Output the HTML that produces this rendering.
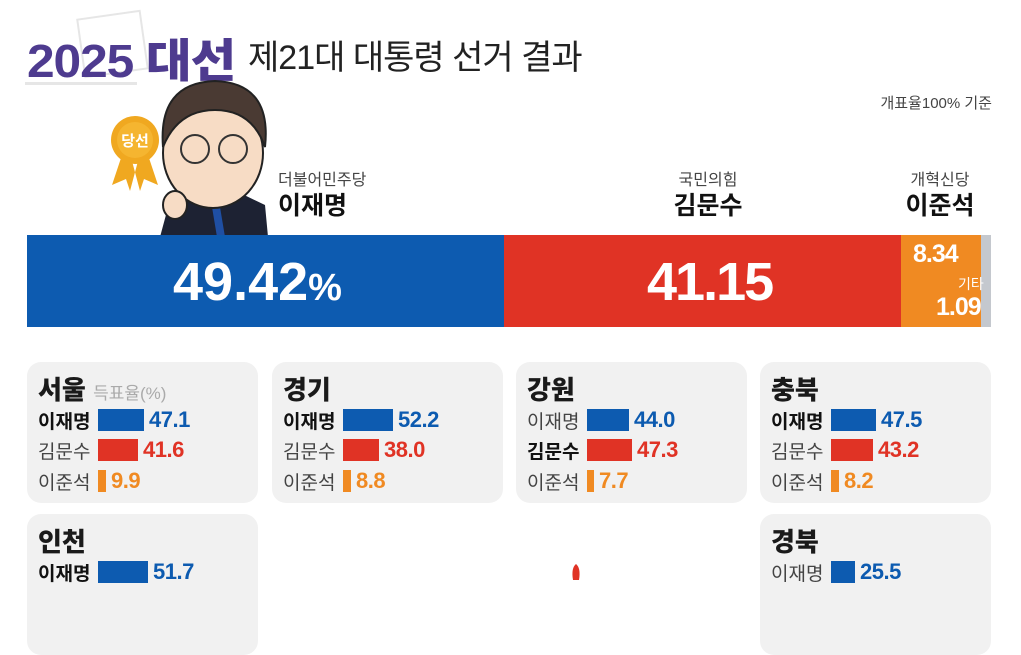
<!DOCTYPE html>
<html><head><meta charset="utf-8"><style>
*{margin:0;padding:0;box-sizing:border-box}
body{width:1021px;height:580px;overflow:hidden;background:#fff;position:relative;font-family:"Liberation Sans","Noto Sans CJK KR",sans-serif;color:#222}
.a{position:absolute;white-space:nowrap}
.card{position:absolute;background:#f1f1f1;border-radius:14px;width:231px;height:141px}
.card .t{position:absolute;left:11px;top:8px;font-size:26px;font-weight:900;color:#1a1a1a}
.row{position:absolute;left:11px;height:26px;font-size:19px;display:flex;align-items:center}
.row .n{width:60px;color:#444}
.row .n.b{font-weight:bold;color:#111}
.row .bar{height:22px;margin-right:5px}
.row .v{font-weight:bold;letter-spacing:-0.5px;font-size:22px}
.B{background:#0d5bb0}.R{background:#e03325}.O{background:#f08a22}
.cB{color:#0d5bb0}.cR{color:#e03325}.cO{color:#f08a22}
</style></head><body>
<div class="a" style="left:80px;top:14px;width:65px;height:60px;border:2px solid #e6e6e6;transform:rotate(-8deg)"></div>
<div class="a" style="left:25px;top:82px;width:112px;height:3px;background:#e6e6e6"></div>
<div class="a" style="left:27px;top:25px;font-size:46px;font-weight:900;color:#4e3b8f;letter-spacing:-1px;transform:scaleX(1.08);transform-origin:left">2025 대선</div>
<div class="a" style="left:248px;top:30px;font-size:34px;color:#222;letter-spacing:-1px">제21대 대통령 선거 결과</div>
<div class="a" style="right:29px;top:92px;font-size:15px;color:#444">개표율100% 기준</div>
<svg class="a" style="left:100px;top:75px" width="180" height="162">
<path d="M60 162 L70 125 L100 115 L140 118 L165 130 L168 162Z" fill="#1d2233"/>
<path d="M110 120 L117 162 L125 162 L118 120Z" fill="#1f4fa3"/>
<ellipse cx="113" cy="78" rx="50" ry="55" fill="#f7dcc5" stroke="#222" stroke-width="2"/>
<path d="M63 72 Q58 8 115 6 Q172 8 165 72 Q152 35 115 35 Q78 35 63 72Z" fill="#4a3a33" stroke="#222" stroke-width="2"/>
<circle cx="95" cy="74" r="14" fill="none" stroke="#333" stroke-width="2"/>
<circle cx="133" cy="74" r="14" fill="none" stroke="#333" stroke-width="2"/>
<ellipse cx="75" cy="130" rx="12" ry="14" fill="#f7dcc5" stroke="#222" stroke-width="2"/>
<path d="M22 80 L12 110 L26 104 L30 116 L38 86Z M48 80 L58 110 L44 104 L40 116 L32 86Z" fill="#f0a820"/>
<circle cx="35" cy="65" r="24" fill="#f0a820"/>
<circle cx="35" cy="65" r="18" fill="#f5b530"/>
<text x="35" y="71" text-anchor="middle" font-size="15" font-weight="bold" fill="#fff" font-family="Liberation Sans,Noto Sans CJK KR,sans-serif">당선</text>
</svg>
<div class="a" style="left:278px;top:166px;font-size:16px;color:#444">더불어민주당</div>
<div class="a" style="left:278px;top:186px;font-size:25px;font-weight:bold;color:#111">이재명</div>
<div class="a" style="left:708px;top:166px;font-size:16px;color:#444;transform:translateX(-50%)">국민의힘</div>
<div class="a" style="left:708px;top:186px;font-size:25px;font-weight:bold;color:#111;transform:translateX(-50%)">김문수</div>
<div class="a" style="left:940px;top:166px;font-size:16px;color:#444;transform:translateX(-50%)">개혁신당</div>
<div class="a" style="left:940px;top:186px;font-size:25px;font-weight:bold;color:#111;transform:translateX(-50%)">이준석</div>
<div class="a B" style="left:27px;top:235px;width:477px;height:92px"></div>
<div class="a R" style="left:504px;top:235px;width:397px;height:92px"></div>
<div class="a O" style="left:901px;top:235px;width:80px;height:92px"></div>
<div class="a" style="left:981px;top:235px;width:10px;height:92px;background:#c4c8ce"></div>
<div class="a" style="left:173px;top:251px;font-size:54px;font-weight:bold;color:#fff;letter-spacing:0px">49.42<span style="font-size:38px">%</span></div>
<div class="a" style="left:647px;top:251px;font-size:54px;font-weight:bold;color:#fff;letter-spacing:-2px">41.15</div>
<div class="a" style="left:913px;top:240px;font-size:25px;font-weight:bold;color:#fff;letter-spacing:-1px">8.34</div>
<div class="a" style="left:958px;top:274px;font-size:14px;color:#fff">기타</div>
<div class="a" style="left:936px;top:293px;font-size:25px;font-weight:bold;color:#fff;letter-spacing:-1px">1.09</div>

<div class="card" style="left:27px;top:362px"><div class="t">서울 <span style="font-size:17px;font-weight:normal;color:#aaa">득표율(%)</span></div>
<div class="row" style="top:45px"><span class="n b">이재명</span><span class="bar B" style="width:46px"></span><span class="v cB">47.1</span></div>
<div class="row" style="top:75px"><span class="n">김문수</span><span class="bar R" style="width:40px"></span><span class="v cR">41.6</span></div>
<div class="row" style="top:106px"><span class="n">이준석</span><span class="bar O" style="width:8px"></span><span class="v cO">9.9</span></div></div>

<div class="card" style="left:272px;top:362px"><div class="t">경기</div>
<div class="row" style="top:45px"><span class="n b">이재명</span><span class="bar B" style="width:50px"></span><span class="v cB">52.2</span></div>
<div class="row" style="top:75px"><span class="n">김문수</span><span class="bar R" style="width:36px"></span><span class="v cR">38.0</span></div>
<div class="row" style="top:106px"><span class="n">이준석</span><span class="bar O" style="width:8px"></span><span class="v cO">8.8</span></div></div>

<div class="card" style="left:516px;top:362px"><div class="t">강원</div>
<div class="row" style="top:45px"><span class="n">이재명</span><span class="bar B" style="width:42px"></span><span class="v cB">44.0</span></div>
<div class="row" style="top:75px"><span class="n b">김문수</span><span class="bar R" style="width:45px"></span><span class="v cR">47.3</span></div>
<div class="row" style="top:106px"><span class="n">이준석</span><span class="bar O" style="width:7px"></span><span class="v cO">7.7</span></div></div>

<div class="card" style="left:760px;top:362px"><div class="t">충북</div>
<div class="row" style="top:45px"><span class="n b">이재명</span><span class="bar B" style="width:45px"></span><span class="v cB">47.5</span></div>
<div class="row" style="top:75px"><span class="n">김문수</span><span class="bar R" style="width:42px"></span><span class="v cR">43.2</span></div>
<div class="row" style="top:106px"><span class="n">이준석</span><span class="bar O" style="width:8px"></span><span class="v cO">8.2</span></div></div>

<div class="card" style="left:27px;top:514px"><div class="t">인천</div>
<div class="row" style="top:45px"><span class="n b">이재명</span><span class="bar B" style="width:50px"></span><span class="v cB">51.7</span></div></div>

<div class="card" style="left:760px;top:514px"><div class="t">경북</div>
<div class="row" style="top:45px"><span class="n">이재명</span><span class="bar B" style="width:24px"></span><span class="v cB">25.5</span></div></div>

<svg class="a" style="left:565px;top:560px" width="20" height="20"><path d="M8 20 Q6 8 11 4 Q16 8 14 20Z" fill="#e03325"/></svg>
</body></html>
